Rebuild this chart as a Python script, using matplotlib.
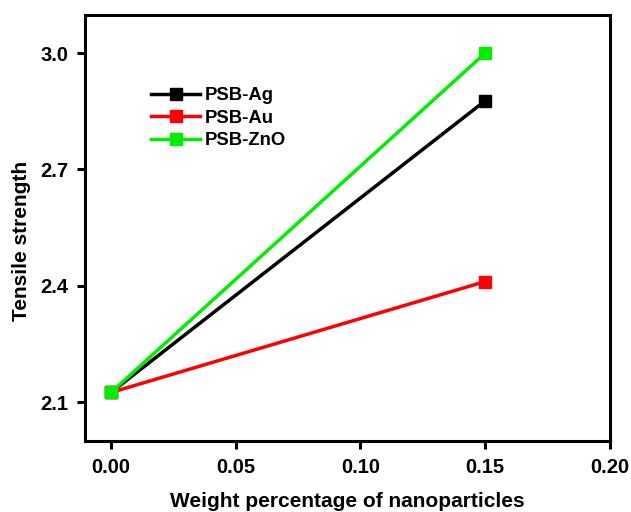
import matplotlib
matplotlib.use('Agg')
import matplotlib.pyplot as plt

plt.rcParams['font.family'] = ['Liberation Sans', 'DejaVu Sans']
plt.rcParams['font.weight'] = 'bold'

# data
x = [0.0, 0.15]
series = ['PSB-Ag', 'PSB-Au', 'PSB-ZnO']
ag = [2.125, 2.877]
au = [2.125, 2.411]
zno = [2.125, 3.0]
colors = ['#000000', '#ff0000', '#00ee00']

x_ticks = [0.00, 0.05, 0.10, 0.15, 0.20]
y_ticks = [2.1, 2.4, 2.7, 3.0]

fig = plt.figure(figsize=(6.31, 5.12), dpi=100)
ax = fig.add_axes([0.1347, 0.1387, 0.832, 0.832])

for name, vals, c in zip(series, [ag, au, zno], colors):
    ax.plot(x, vals, color=c, lw=2.5, marker='s', markersize=9, label=name)

ax.set_xlim(-0.0104, 0.20)
ax.set_ylim(2.0, 3.098)
ax.set_xticks(x_ticks)
ax.set_xticklabels([f'{v:.2f}' for v in x_ticks])
ax.set_yticks(y_ticks)
ax.set_yticklabels([f'{v:.1f}' for v in y_ticks])

for s in ax.spines.values():
    s.set_linewidth(2.2)
ax.tick_params(direction='out', length=6, width=2.2, labelsize=14.5, pad=6)

ax.set_xlabel('Weight percentage of nanoparticles', fontsize=15, fontweight='bold', labelpad=11)
ax.set_ylabel('Tensile strength', fontsize=15, fontweight='bold')
# label sits a little below the axis middle in the reference
ax.yaxis.set_label_coords(-0.103, 0.47)

ax.legend(loc='upper left', bbox_to_anchor=(0.095, 0.87), frameon=False,
          fontsize=13.3, handlelength=2.6, labelspacing=0.3, handletextpad=0.3)

fig.savefig('out.png', dpi=100)
